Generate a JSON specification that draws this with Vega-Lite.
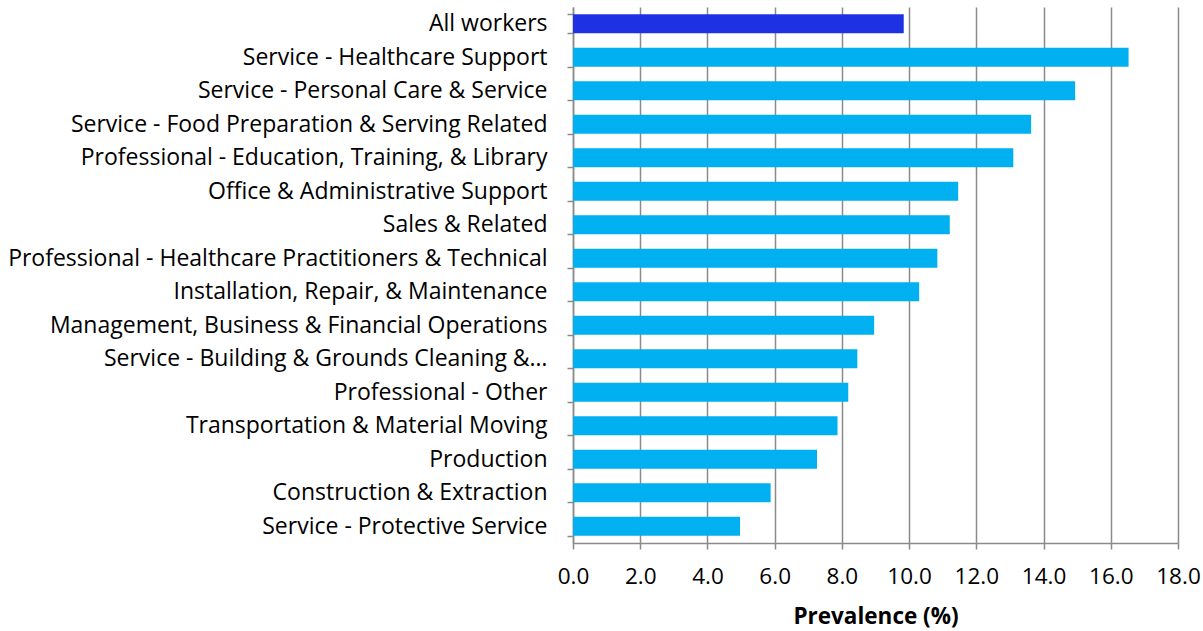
{
  "$schema": "https://vega.github.io/schema/vega-lite/v6.json",
  "autosize": "none",
  "padding": {"left": 573, "top": 7, "right": 24, "bottom": 88},
  "width": 605,
  "height": 536,
  "background": "white",
  "config": {"view": {"stroke": null}, "font": "Open Sans"},
  "data": {"values": [
    {"group": "All workers", "prevalence": 9.84, "type": "all"},
    {"group": "Service - Healthcare Support", "prevalence": 16.53, "type": "occ"},
    {"group": "Service - Personal Care & Service", "prevalence": 14.94, "type": "occ"},
    {"group": "Service - Food Preparation & Serving Related", "prevalence": 13.63, "type": "occ"},
    {"group": "Professional - Education, Training, & Library", "prevalence": 13.10, "type": "occ"},
    {"group": "Office & Administrative Support", "prevalence": 11.46, "type": "occ"},
    {"group": "Sales & Related", "prevalence": 11.21, "type": "occ"},
    {"group": "Professional - Healthcare Practitioners & Technical", "prevalence": 10.84, "type": "occ"},
    {"group": "Installation, Repair, & Maintenance", "prevalence": 10.30, "type": "occ"},
    {"group": "Management, Business & Financial Operations", "prevalence": 8.96, "type": "occ"},
    {"group": "Service - Building & Grounds Cleaning &…", "prevalence": 8.46, "type": "occ"},
    {"group": "Professional - Other", "prevalence": 8.19, "type": "occ"},
    {"group": "Transportation & Material Moving", "prevalence": 7.87, "type": "occ"},
    {"group": "Production", "prevalence": 7.26, "type": "occ"},
    {"group": "Construction & Extraction", "prevalence": 5.88, "type": "occ"},
    {"group": "Service - Protective Service", "prevalence": 4.97, "type": "occ"}
  ]},
  "mark": {"type": "bar"},
  "encoding": {
    "y": {
      "field": "group", "type": "nominal", "sort": null,
      "scale": {"paddingInner": 0.43, "paddingOuter": 0.215},
      "axis": {
        "title": null, "tickBand": "extent", "grid": false,
        "domainColor": "#8a8a8a", "domainWidth": 1.5,
        "tickColor": "#8a8a8a", "tickWidth": 1.5, "tickSize": 6,
        "labelPadding": 20, "labelFontSize": 23, "labelColor": "#000000",
        "labelLimit": 700, "labelFont": "Open Sans"
      }
    },
    "x": {
      "field": "prevalence", "type": "quantitative",
      "scale": {"domain": [0, 18], "nice": false},
      "axis": {
        "title": "Prevalence (%)", "titleFontSize": 22.5, "titleFontWeight": "bold",
        "titleColor": "#000000", "titlePadding": 18, "titleFont": "Open Sans",
        "values": [0, 2, 4, 6, 8, 10, 12, 14, 16, 18], "format": ".1f",
        "grid": true, "gridColor": "#8a8a8a", "gridWidth": 1.5,
        "domainColor": "#8a8a8a", "domainWidth": 1.5,
        "tickColor": "#8a8a8a", "tickWidth": 1.5, "tickSize": 6,
        "labelPadding": 16, "labelFontSize": 22.5, "labelColor": "#000000",
        "labelFont": "Open Sans", "labelFlush": false
      }
    },
    "color": {
      "field": "type", "type": "nominal",
      "scale": {"domain": ["all", "occ"], "range": ["#1E32E3", "#00B0F0"]},
      "legend": null
    }
  }
}
